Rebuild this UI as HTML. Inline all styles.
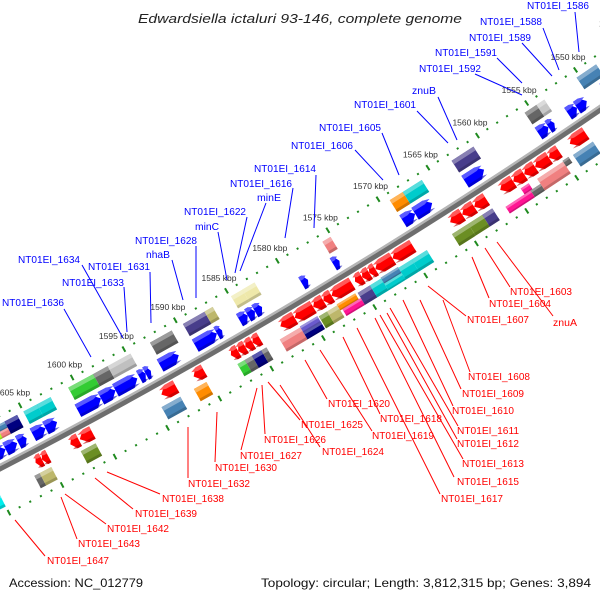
<!DOCTYPE html>
<html><head><meta charset="utf-8"><style>
html,body{margin:0;padding:0;background:#fff;}
svg{display:block;font-family:"Liberation Sans",sans-serif;}
</style></head><body>
<svg id="chart" width="600" height="600" viewBox="0 0 600 600" xmlns="http://www.w3.org/2000/svg">
<rect width="600" height="600" fill="#fff"/>
<text x="300" y="23" text-anchor="middle" font-size="13" font-style="italic" fill="#222" textLength="324" lengthAdjust="spacingAndGlyphs">Edwardsiella ictaluri 93-146, complete genome</text>
<g id="tracks"></g>
<g id="feats"></g>
<g id="labels"></g>
<text x="9" y="587" font-size="12" fill="#111" textLength="134" lengthAdjust="spacingAndGlyphs">Accession: NC_012779</text>
<text x="591" y="587" text-anchor="end" font-size="12" fill="#111" textLength="330" lengthAdjust="spacingAndGlyphs">Topology: circular; Length: 3,812,315 bp; Genes: 3,894</text>
</svg>
<script>
// ---- data (kbp) ----
const tickKbp = [1545,1550,1555,1560,1565,1570,1575,1580,1585,1590,1595,1600,1605,1610];
const upperBoxes = [
 [1606.8,1607.8,'u1a','#4682b4'],[1606.8,1607.8,'u1b','#f08080'],[1607.6,1608.4,'u1b','#adff2f'],
 [1605.6,1606.8,'u1','#000080'],[1603.7,1605.0,'u1','#00cccc'],[1602.4,1603.7,'u1','#00cccc'],
 [1598.3,1600.7,'u1','#33cc33'],[1596.9,1598.3,'u1','#666666'],[1594.7,1596.9,'u1','#c0c0c0'],
 [1590.7,1592.8,'u1','#666666'],[1587.5,1589.6,'u1','#483d8b'],[1586.7,1587.5,'u1','#bdb76b'],
 [1583.8,1584.9,'u1','#eee8aa'],[1582.6,1583.8,'u1','#eee8aa'],[1575.1,1575.9,'u1','#f08080'],
 [1567.9,1569.2,'u1','#ff8c00'],[1566.0,1567.9,'u1','#00cccc'],[1560.8,1563.0,'u1','#483d8b'],
 [1554.4,1555.6,'u1','#666666'],[1553.6,1554.4,'u1','#c8c8c8'],[1548.3,1550.3,'u1','#4682b4']
];
const upperArrows = [
 [1607.8,1609.0],[1606.7,1607.8],[1605.8,1606.6],[1604.0,1605.2],[1602.9,1604.0],
 [1598.7,1600.9],[1597.3,1598.7],[1595.2,1597.3],[1594.4,1595.0],[1593.9,1594.4],
 [1591.2,1593.0],[1587.5,1589.6],[1587.0,1587.5],[1584.5,1585.3],[1583.8,1584.5],[1583.1,1583.8],
 [1578.6,1579.2],[1575.5,1576.1],[1568.0,1569.2],[1566.3,1568.0],[1561.1,1563.0],
 [1554.6,1555.6],[1554.0,1554.6],[1551.7,1552.6],[1550.7,1551.7],[1548.0,1549.0]
];
const lowerArrows = [
 [1605.5,1606.1],[1604.9,1605.5],[1602.0,1602.8],[1600.7,1601.9],[1592.7,1594.1],[1590.0,1591.0],
 [1586.7,1587.4],[1586.0,1586.7],[1585.3,1586.0],[1584.6,1585.3],
 [1581.2,1582.6],[1579.4,1581.2],[1578.4,1579.4],[1577.6,1578.4],[1575.6,1577.6],
 [1574.6,1575.3],[1573.9,1574.6],[1573.3,1573.9],[1571.6,1573.3],[1569.6,1571.6],
 [1564.7,1565.9],[1563.5,1564.7],[1562.3,1563.5],
 [1559.6,1560.9],[1558.5,1559.6],[1557.4,1558.5],[1556.0,1557.4],[1555.0,1556.0],[1552.3,1553.9]
];
const lowerBoxes = [
 [1611.2,1612.2,'l2a','#4682b4'],[1610.0,1611.2,'l2','#00eeee'],
 [1606.2,1606.7,'l2','#666666'],[1605.1,1606.2,'l2','#bdb76b'],[1600.9,1602.3,'l2','#6b8e23'],
 [1592.8,1594.6,'l2','#4682b4'],[1590.3,1591.5,'l2','#ff8c00'],
 [1586.6,1587.3,'l2','#33cc33'],[1585.9,1586.6,'l2','#666666'],[1585.0,1585.9,'l2','#000080'],[1584.5,1585.0,'l2','#666666'],
 [1581.2,1583.2,'l2','#f08080'],[1579.5,1581.2,'l2a','#6a5acd'],[1579.5,1581.2,'l2b','#000080'],
 [1578.6,1579.4,'l2','#6b8e23'],[1577.6,1578.6,'l2','#bdb76b'],[1575.8,1577.6,'l2a','#ff8c00'],[1575.6,1577.4,'l2b','#ff1493'],
 [1574.4,1575.6,'l2','#483d8b'],[1573.3,1574.4,'l2','#00cccc'],[1571.6,1573.3,'l2a','#4682b4'],[1571.6,1573.3,'l2b','#00cccc'],
 [1570.3,1571.6,'l2','#00cccc'],[1568.8,1570.3,'l2','#00cccc'],
 [1564.7,1566.3,'l2','#6b8e23'],[1563.3,1564.7,'l2','#6b8e23'],[1562.3,1563.3,'l2','#483d8b'],
 [1558.8,1561.3,'l2b','#ff1493'],[1558.6,1559.4,'l2a','#ff1493'],[1557.8,1558.8,'l2b','#666666'],
 [1555.2,1557.8,'l2','#f08080'],[1554.6,1555.2,'l2a','#666666'],[1552.2,1554.2,'l2','#4682b4']
];
const blueLabels = [
 ['NT01EI_1586',527,5,575,12,579,52],['NT01EI_1588',480,21,543,28,559,70],['NT01EI_1589',469,37,522,43,552,76],
 ['NT01EI_1591',435,52,497,58,522,83],['NT01EI_1592',419,68,475,74,522,95],['znuB',412,90,438,97,457,140],
 ['NT01EI_1601',354,104,417,111,448,143],['NT01EI_1605',319,127,382,133,399,175],['NT01EI_1606',291,145,355,150,383,180],
 ['NT01EI_1614',254,168,316,175,314,228],['NT01EI_1616',230,183,293,188,285,238],['minE',257,197,266,203,240,271],
 ['NT01EI_1622',184,211,247,217,235,273],['minC',195,226,218,232,227,280],['NT01EI_1628',135,240,196,246,196,298],
 ['nhaB',146,254,172,260,183,300],['NT01EI_1634',18,259,82,265,123,338],['NT01EI_1631',88,266,150,272,151,323],
 ['NT01EI_1633',62,282,124,287,127,332],['NT01EI_1636',2,302,64,309,91,357]
];
const redLabels = [
 ['NT01EI_1603',510,291,485,248,510,287],['NT01EI_1604',489,303,472,257,489,298],['znuA',553,322,497,242,553,316],
 ['NT01EI_1607',467,319,428,286,466,316],['NT01EI_1608',468,376,443,300,470,372],['NT01EI_1609',462,393,420,300,461,389],
 ['NT01EI_1610',452,410,403,300,453,406],['NT01EI_1611',457,430,390,308,458,426],['NT01EI_1612',457,443,387,313,457,439],
 ['NT01EI_1613',462,463,380,315,463,459],['NT01EI_1615',457,481,375,318,454,477],['NT01EI_1617',441,498,357,328,440,494],
 ['NT01EI_1618',380,418,343,337,380,414],['NT01EI_1619',372,435,320,350,372,431],['NT01EI_1620',328,403,305,360,327,399],
 ['NT01EI_1624',322,451,280,385,320,447],['NT01EI_1625',301,424,268,382,300,420],['NT01EI_1626',264,439,262,385,265,434],
 ['NT01EI_1627',240,455,257,388,241,450],['NT01EI_1630',215,467,217,412,215,462],['NT01EI_1632',188,483,188,427,188,478],
 ['NT01EI_1638',162,498,107,472,160,494],['NT01EI_1639',135,513,95,478,133,509],['NT01EI_1642',107,528,65,494,106,524],
 ['NT01EI_1643',78,543,61,497,77,539],['NT01EI_1647',47,560,15,520,45,556]
];
// ---- geometry ----
const NS='http://www.w3.org/2000/svg';
const CX=-2621, CY=-4595, R_MAIN=5700, R_UP=5655, R_LOW=5745;
const ROWS={u1:[5662,5676],u1a:[5662,5669],u1b:[5669,5676],u2:[5680,5694],l1:[5706,5720],l2:[5724,5738],l2a:[5723,5730],l2b:[5730,5738]};
function theta(k){return (58.57+(k-1575)*0.1196)*Math.PI/180;}
function pt(k,r){const t=theta(k);return [CX+r*Math.cos(t),CY+r*Math.sin(t)];}
function mk(tag,attrs,parent){const e=document.createElementNS(NS,tag);for(const k in attrs)e.setAttribute(k,attrs[k]);parent.appendChild(e);return e;}
const tracks=document.getElementById('tracks'), feats=document.getElementById('feats'), labels=document.getElementById('labels');
function arc(r,k0,k1){const a=pt(k0,r),b=pt(k1,r);return `M${a[0]},${a[1]} A${r},${r} 0 0 0 ${b[0]},${b[1]}`;}
// main backbone
let m=mk('path',{d:arc(R_MAIN+1,1614,1543),stroke:'#6e6e6e','stroke-width':7,fill:'none'},tracks);


let m2=mk('path',{d:arc(R_MAIN-1.5,1614,1543),stroke:'#b5b5b5','stroke-width':2.5,fill:'none'},tracks);


// dotted scale tracks
[R_UP,R_LOW].forEach((r,ti)=>{
  for(let k=1540;k<=1615;k++){
    const big=(k%5===0);
    const t=theta(k), deg=t*180/Math.PI-90;
    const [x,y]=pt(k,r);
    const d=mk('rect',{x:-1,y:big?-3:-1,width:big?2:2,height:big?6:2,fill:'#1f8a1f',transform:`translate(${x},${y}) rotate(${deg})`},tracks);
    
    
  }
});
tickKbp.forEach(k=>{
  const [x,y]=pt(k,R_UP);
  const t=mk('text',{x:x+10,y:y-10,'text-anchor':'end','font-size':'8.5',fill:'#333'},tracks);
  t.textContent=k+' kbp';
  
  
});
function shade(hex,f){const n=parseInt(hex.slice(1),16);let r=n>>16,g=(n>>8)&255,b=n&255;
 if(f>0){r+= (255-r)*f;g+=(255-g)*f;b+=(255-b)*f;}else{r*=1+f;g*=1+f;b*=1+f;}
 return `rgb(${r|0},${g|0},${b|0})`;}
function feature(a,b,row,color,kind,name){
  const [r0,r1]=ROWS[row];
  const [x,y]=pt(b,r0);
  const deg=theta(b)*180/Math.PI-90;
  const w=(theta(b)-theta(a))*r0, h=r1-r0;
  const g=mk('g',{transform:`translate(${x},${y}) rotate(${deg})`},feats);
  
  
  let pts;
  const hd=Math.min(w*0.5,7);
  if(kind==='right') pts=`0,0 ${w-hd},0 ${w},${h/2} ${w-hd},${h} 0,${h}`;
  else if(kind==='left') pts=`${hd},0 ${w},0 ${w},${h} ${hd},${h} 0,${h/2}`;
  else pts=`0,0 ${w},0 ${w},${h} 0,${h}`;
  mk('polygon',{points:pts,fill:color},g);
  mk('polygon',{points:pts,fill:shade(color,0.35),'clip-path':'none',transform:`scale(1,0.3)`},g);
  mk('polygon',{points:pts,fill:shade(color,-0.3),opacity:0.6,transform:`translate(0,${h*0.8}) scale(1,0.2)`},g);
}
upperBoxes.forEach(f=>feature(f[0],f[1],f[2],f[3],'box','gene-box'));
upperArrows.forEach(f=>feature(f[0],f[1],'u2','#0000ff','right','forward-gene-arrow'));
lowerArrows.forEach(f=>feature(f[0],f[1],'l1','#ff0000','left','reverse-gene-arrow'));
lowerBoxes.forEach(f=>feature(f[0],f[1],f[2],f[3],'box','gene-box'));
function addLabels(list,color,prefix){
  list.forEach(l=>{
    const ln=mk('line',{x1:l[3],y1:l[4],x2:l[5],y2:l[6],stroke:color,'stroke-width':1},labels);
    
    
    const short=l[0].length<6;
    const t=mk('text',{x:l[1],y:l[2]+4,'font-size':'10.5',fill:color,textLength:short?24:62,lengthAdjust:'spacingAndGlyphs'},labels);
    t.textContent=l[0];
    
    
  });
}
addLabels(blueLabels,'#0000ff','forward-gene');
addLabels(redLabels,'#ff0000','reverse-gene');
</script>
</body></html>
